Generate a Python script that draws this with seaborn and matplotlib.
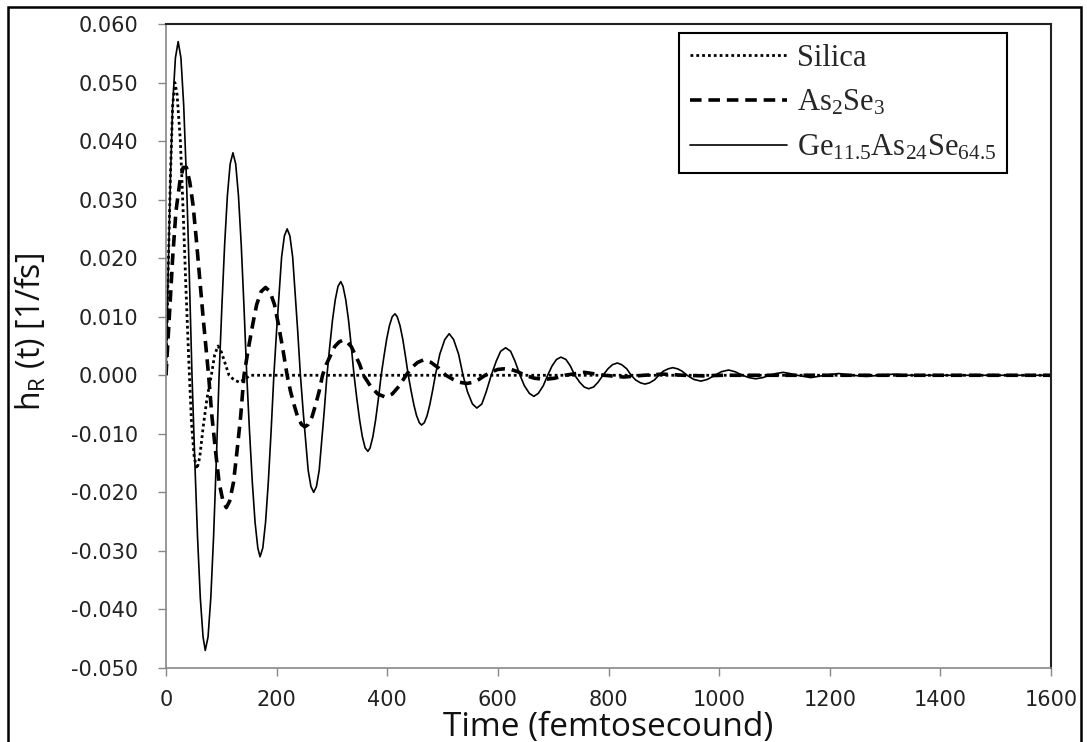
import matplotlib
matplotlib.use("Agg")
import matplotlib.pyplot as plt
import seaborn as sns
import pandas as pd
from matplotlib.patches import Rectangle

# ---- data (time in fs, h_R(t) in 1/fs) ----
silica_pts = [(0, 0.0), (4, 0.018), (8, 0.034), (12, 0.046), (16, 0.050), (20, 0.048),
              (26, 0.040), (31, 0.028), (36, 0.015), (41, 0.003), (46, -0.008), (51, -0.014),
              (56, -0.016), (61, -0.014), (67, -0.009), (74, -0.004), (82, 0.0), (88, 0.0035),
              (94, 0.005), (100, 0.004), (107, 0.002), (114, 0.0), (123, -0.0008), (133, -0.0012),
              (143, -0.0006), (153, 0.0), (400, 0.0), (800, 0.0), (1200, 0.0), (1600, 0.0)]

as2se3_pts = [(0, 0.0), (6, 0.010), (12, 0.020), (18, 0.028), (25, 0.033), (31, 0.0355),
              (37, 0.0355), (43, 0.033), (49, 0.029), (55, 0.023), (61, 0.0165), (67, 0.010),
              (72, 0.005), (77, 0.0),
              (83, -0.0070), (90, -0.0133), (96, -0.0183), (103, -0.0215), (109, -0.0226),
              (115, -0.0215), (122, -0.0183), (128, -0.0133), (135, -0.0070), (141, 0.0),
              (149, 0.0046), (157, 0.0088), (164, 0.0121), (172, 0.0143), (180, 0.0150),
              (188, 0.0143), (196, 0.0121), (203, 0.0088), (211, 0.0046), (219, 0.0),
              (225, -0.0027), (232, -0.0052), (238, -0.0071), (245, -0.0084), (251, -0.0088),
              (257, -0.0084), (264, -0.0071), (270, -0.0052), (277, -0.0027), (283, 0.0),
              (290, 0.0019), (298, 0.0035), (305, 0.0049), (313, 0.0057), (320, 0.0060),
              (327, 0.0057), (335, 0.0049), (342, 0.0035), (350, 0.0019), (357, 0.0),
              (370, -0.0019), (383, -0.0032), (396, -0.0037), (409, -0.0032), (421, -0.0019), (434, 0.0),
              (444, 0.0013), (455, 0.0022), (465, 0.0026), (479, 0.0022), (492, 0.0013), (506, 0.0),
              (519, -0.0007), (531, -0.0012), (544, -0.0014), (555, -0.0012), (566, -0.0007), (577, 0.0),
              (589, 0.0006), (600, 0.0010), (611, 0.0011), (624, 0.0010), (636, 0.0006), (649, 0.0),
              (666, -0.0005), (685, -0.0007), (703, -0.0005), (721, 0.0), (756, 0.0005), (792, 0.0),
              (828, -0.0003), (864, 0.0), (899, 0.0002), (935, 0.0), (971, -0.0001), (1007, 0.0),
              (1300, 0.0), (1600, 0.0)]

ge_pts = [(0, 0.0), (4, 0.0176), (8, 0.0335), (12, 0.0461), (17, 0.0542), (22, 0.0570),
          (27, 0.0542), (32, 0.0461), (37, 0.0335), (42, 0.0176), (47, 0.0),
          (52, -0.0145), (57, -0.0276), (62, -0.0380), (67, -0.0447), (71, -0.0470),
          (76, -0.0447), (81, -0.0380), (86, -0.0276), (91, -0.0145), (96, 0.0),
          (101, 0.0117), (106, 0.0223), (111, 0.0307), (116, 0.0361), (121, 0.0380),
          (126, 0.0361), (131, 0.0307), (136, 0.0223), (141, 0.0117), (146, 0.0),
          (151, -0.0096), (156, -0.0182), (161, -0.0251), (166, -0.0295), (170, -0.0310),
          (175, -0.0295), (180, -0.0251), (185, -0.0182), (190, -0.0096), (195, 0.0),
          (200, 0.0077), (205, 0.0147), (209, 0.0202), (214, 0.0238), (219, 0.0250),
          (224, 0.0238), (229, 0.0202), (233, 0.0147), (238, 0.0077), (243, 0.0),
          (248, -0.0062), (253, -0.0118), (257, -0.0162), (262, -0.0190), (267, -0.0200),
          (272, -0.0190), (277, -0.0162), (281, -0.0118), (286, -0.0062), (291, 0.0),
          (296, 0.0049), (301, 0.0094), (306, 0.0129), (311, 0.0152), (316, 0.0160),
          (320, 0.0152), (325, 0.0129), (330, 0.0094), (335, 0.0049), (340, 0.0),
          (345, -0.0040), (350, -0.0076), (355, -0.0105), (360, -0.0124), (365, -0.0130),
          (369, -0.0124), (374, -0.0105), (379, -0.0076), (384, -0.0040), (389, 0.0),
          (394, 0.0032), (399, 0.0062), (404, 0.0085), (409, 0.0100), (414, 0.0105),
          (418, 0.0100), (423, 0.0085), (428, 0.0062), (433, 0.0032), (438, 0.0),
          (443, -0.0026), (448, -0.0050), (453, -0.0069), (458, -0.0081), (462, -0.0085),
          (467, -0.0081), (472, -0.0069), (477, -0.0050), (482, -0.0026), (487, 0.0),
          (495, 0.0036), (504, 0.0061), (512, 0.0071), (520, 0.0061), (529, 0.0036), (537, 0.0),
          (545, -0.0028), (554, -0.0049), (562, -0.0056), (571, -0.0049), (579, -0.0028), (588, 0.0),
          (597, 0.0024), (605, 0.0041), (614, 0.0047), (623, 0.0041), (631, 0.0024), (640, 0.0),
          (648, -0.0018), (657, -0.0031), (665, -0.0036), (673, -0.0031), (682, -0.0018), (690, 0.0),
          (698, 0.0016), (706, 0.0027), (714, 0.0031), (723, 0.0027), (731, 0.0016), (739, 0.0),
          (748, -0.0012), (756, -0.0020), (764, -0.0023), (773, -0.0020), (781, -0.0012), (790, 0.0),
          (799, 0.0011), (807, 0.0018), (816, 0.0021), (824, 0.0018), (833, 0.0011), (841, 0.0),
          (849, -0.0008), (858, -0.0013), (866, -0.0015), (874, -0.0013), (883, -0.0008), (891, 0.0),
          (899, 0.0007), (908, 0.0011), (916, 0.0013), (925, 0.0011), (933, 0.0007), (942, 0.0),
          (954, -0.0007), (967, -0.0010), (979, -0.0007), (992, 0.0),
          (1004, 0.0006), (1017, 0.0009), (1029, 0.0006), (1042, 0.0),
          (1054, -0.0004), (1066, -0.0006), (1079, -0.0004), (1091, 0.0),
          (1103, 0.0003), (1116, 0.0005), (1128, 0.0003), (1141, 0.0),
          (1166, -0.0004), (1191, 0.0), (1216, 0.0003), (1241, 0.0), (1266, -0.0002), (1291, 0.0),
          (1316, 0.0002), (1341, 0.0), (1450, 0.0), (1600, 0.0)]

series_names = ["Silica", r"As$_2$Se$_3$", r"Ge$_{11.5}$As$_{24}$Se$_{64.5}$"]
x_ticks = [0, 200, 400, 600, 800, 1000, 1200, 1400, 1600]
y_ticks = [-0.05, -0.04, -0.03, -0.02, -0.01, 0.0, 0.01, 0.02, 0.03, 0.04, 0.05, 0.06]
y_tick_labels = ["-0.050", "-0.040", "-0.030", "-0.020", "-0.010", "0.000",
                 "0.010", "0.020", "0.030", "0.040", "0.050", "0.060"]
x_label = "Time (femtosecound)"
y_label = r"h$_R$ (t) [1/fs]"

# ---- plotting ----
sns.set_style("white")
plt.rcParams["mathtext.default"] = "regular"
plt.rcParams["axes.unicode_minus"] = False

fig = plt.figure(figsize=(10.87, 7.42), dpi=100)
# plot area: x 166..1051 px, y 24..668 px
ax = fig.add_axes([166 / 1087, 1 - 668 / 742, 885 / 1087, 644 / 742])

styles = [
    dict(lw=2.0, dashes=(1.0, 1.1)),
    dict(lw=2.6, dashes=(3.2, 1.9)),
    dict(lw=1.2, dashes=None),
]
for pts, name, st in zip([silica_pts, as2se3_pts, ge_pts], series_names, styles):
    df = pd.DataFrame(pts, columns=["t", "h"])
    sns.lineplot(data=df, x="t", y="h", ax=ax, color="black", lw=st["lw"], label=name)
    line = ax.lines[-1]
    if st["dashes"] is not None:
        line.set_dashes(st["dashes"])
        line.set_dash_capstyle("butt")

ax.set_xlim(0, 1600)
ax.set_ylim(-0.05, 0.06)
ax.set_xticks(x_ticks)
ax.set_xticklabels([str(v) for v in x_ticks], fontfamily="DejaVu Sans", fontsize=15,
                   color="#222222")
ax.set_yticks(y_ticks)
ax.set_yticklabels(y_tick_labels, fontfamily="DejaVu Sans", fontsize=15, color="#222222")
ax.tick_params(axis="both", direction="out", length=6, width=1, color="#888888",
               left=True, bottom=True)
ax.tick_params(axis="y", pad=14)
ax.tick_params(axis="x", pad=10)

ax.set_xlabel(x_label, fontfamily="Open Sans", fontsize=24, color="#111111")
ax.set_ylabel(y_label, fontfamily="Open Sans", fontsize=23, color="#111111")
ax.yaxis.set_label_coords(-0.133, 0.522)
ax.xaxis.set_label_coords(0.5, -0.066)

for side in ["left", "bottom"]:
    ax.spines[side].set_color("#888888")
    ax.spines[side].set_linewidth(1.2)
for side in ["top", "right"]:
    ax.spines[side].set_color("#222222")
    ax.spines[side].set_linewidth(1.5)

leg = ax.legend(loc="upper right", bbox_to_anchor=(0.950, 0.986), frameon=True,
                fancybox=False, edgecolor="black", framealpha=1,
                prop={"family": "Liberation Serif", "size": 22},
                handlelength=3.2, handletextpad=0.3, borderpad=0.35, labelspacing=0.5,
                borderaxespad=0)
leg.get_frame().set_linewidth(1.5)

fig.patches.append(Rectangle((8 / 1087, -0.01), 1073 / 1087, 1.01 - 7 / 742,
                             transform=fig.transFigure, fill=False, edgecolor="black",
                             linewidth=1.8, clip_on=False))

fig.savefig("out.png", dpi=100)
